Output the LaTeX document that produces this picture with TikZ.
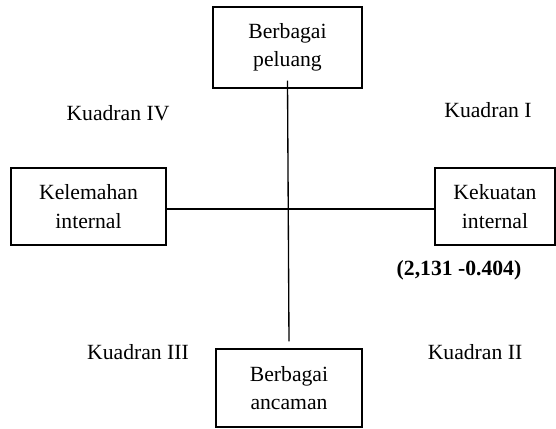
\documentclass[tikz,border=0pt]{standalone}
\usepackage{fontspec}
\setmainfont{Liberation Serif}
\usepackage{tikz}
\usetikzlibrary{calc}

\begin{document}
\begin{tikzpicture}[x=0.6pt, y=-0.6pt,
	kotak/.style={draw, line width=0.8pt, align=center, inner sep=0pt,
		font=\fontsize{13}{17}\selectfont},
	label kuadran/.style={font=\fontsize{13}{16}\selectfont}]
	\useasboundingbox (0,0) rectangle (556,429);
	\node [kotak, minimum width=89.4pt, minimum height=48.6pt] (peluang) at (287.5,47.5) {Berbagai\\peluang};
	\node [kotak, minimum width=87.6pt, minimum height=46.8pt] (ancaman) at (289,388) {Berbagai\\ancaman};
	\node [kotak, minimum width=93pt, minimum height=46.2pt] (lemah) at (88.5,206.5) {Kelemahan\\internal};
	\node [kotak, minimum width=72pt, minimum height=46.2pt] (kuat) at (495,206.5) {Kekuatan\\internal};
	\draw [line width=0.8pt] ([yshift=4.8pt]peluang.south) -- ([yshift=4.2pt]ancaman.north);
	\draw [line width=0.8pt] ([yshift=-1.5pt]lemah.east) -- ([yshift=-1.5pt]kuat.west);
	\node [label kuadran] (k4) at (118,113) {Kuadran IV};
	\node [label kuadran] (k1) at (488,110) {Kuadran I};
	\node [label kuadran] (k3) at (138,352) {Kuadran III};
	\node [label kuadran] (k2) at (475,352) {Kuadran II};
	\node [label kuadran, font=\fontsize{13}{16}\selectfont\bfseries] (titik) at (459,270) {(2,131 -0.404)};
\end{tikzpicture}
\end{document}
